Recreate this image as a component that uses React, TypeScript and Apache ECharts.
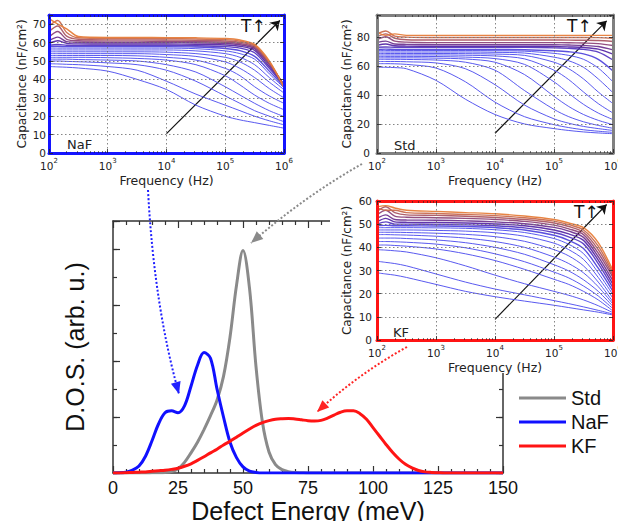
import React, { useEffect, useRef } from "react";
import * as echarts from "echarts";

// ---------- main D.O.S. panel ----------
const ENERGY = [0, 2.5, 5, 7.5, 10, 12.5, 15, 17.5, 20, 22.5, 25, 27.5, 30, 32.5, 35, 37.5, 40, 42.5, 45, 47.5, 50, 52.5, 55, 57.5, 60, 62.5, 65, 67.5, 70, 72.5, 75, 77.5, 80, 82.5, 85, 87.5, 90, 92.5, 95, 97.5, 100, 102.5, 105, 107.5, 110, 112.5, 115, 117.5, 120, 122.5, 125, 127.5, 130, 132.5, 135, 137.5, 140, 142.5, 145, 147.5, 150];

const DOS_STD = [0, 0, 0, 0, 0, 0, 0.005, 0.01, 0.02, 0.05, 0.15, 0.38, 0.72, 1.1, 1.55, 2.05, 2.6, 3.45, 4.85, 6.7, 7.95, 6.6, 3.8, 1.8, 0.75, 0.3, 0.12, 0.05, 0.02, 0.01, 0, 0, 0, 0, 0, 0, 0, 0, 0, 0, 0, 0, 0, 0, 0, 0, 0, 0, 0, 0, 0, 0, 0, 0, 0, 0, 0, 0, 0, 0, 0];
const DOS_NAF = [0, 0.005, 0.03, 0.1, 0.25, 0.6, 1.15, 1.75, 2.15, 2.22, 2.15, 2.4, 3.1, 3.85, 4.3, 4.1, 3.0, 2.0, 1.1, 0.55, 0.22, 0.07, 0.02, 0, 0, 0, 0, 0, 0, 0, 0, 0, 0, 0, 0, 0, 0, 0, 0, 0, 0, 0, 0, 0, 0, 0, 0, 0, 0, 0, 0, 0, 0, 0, 0, 0, 0, 0, 0, 0, 0];
const DOS_KF = [0, 0, 0.01, 0.02, 0.03, 0.04, 0.06, 0.08, 0.1, 0.13, 0.17, 0.24, 0.33, 0.45, 0.58, 0.72, 0.85, 1.0, 1.13, 1.28, 1.43, 1.57, 1.7, 1.8, 1.87, 1.92, 1.94, 1.95, 1.93, 1.9, 1.87, 1.86, 1.88, 1.96, 2.07, 2.17, 2.22, 2.22, 2.12, 1.92, 1.62, 1.32, 1.02, 0.74, 0.5, 0.31, 0.18, 0.09, 0.04, 0.02, 0.01, 0, 0, 0, 0, 0, 0, 0, 0, 0, 0];

const SERIES_NAMES = ["Std", "NaF", "KF"];

// ---------- inset capacitance spectra ----------
const FREQ = [100, 141, 200, 316, 1000, 3162, 10000, 31623, 100000, 177828, 316228, 562341, 1000000];

const NAF_CURVES = [
  [47, 46.8, 46.6, 46.2, 44.5, 40, 34.5, 26, 20, 18, 16.5, 15, 13.5],
  [48.5, 48.4, 48.2, 48, 47, 45, 39, 32, 26, 23, 20, 17.5, 15.3],
  [50, 50, 49.8, 49.6, 49, 48, 45, 39, 31, 27, 23, 20, 17],
  [51, 51, 51, 50.8, 50.5, 50, 48, 44, 36, 31.5, 27, 23, 19.8],
  [52, 52, 52, 52, 51.8, 51.4, 50.5, 48, 42, 37, 31.5, 27, 23.5],
  [53, 53, 53, 53, 53, 52.8, 52, 50.5, 46, 42, 36, 31, 27],
  [54, 54, 54, 54, 54, 54, 53.5, 52.5, 49.5, 46, 41, 35, 30],
  [55, 55, 55, 55, 55, 55, 54.8, 54, 52, 49.5, 45, 38.5, 32.6],
  [56, 56, 56, 56, 56, 56, 56, 55.5, 54, 52, 48, 41, 34.4],
  [57, 57, 57, 57, 57, 57, 57, 56.7, 55.5, 54, 51, 43, 35.5],
  [57.8, 58, 57.8, 57.8, 57.8, 57.8, 57.8, 57.6, 56.8, 55.6, 52.5, 44.5, 36],
  [58.5, 59, 58.6, 58.5, 58.5, 58.5, 58.5, 58.3, 57.8, 57, 54.5, 46, 36.5],
  [59.5, 61, 59.6, 59.3, 59.2, 59.2, 59.2, 59.1, 58.7, 58, 55.8, 47, 37],
  [61, 63, 60.5, 60.2, 60, 60, 60, 59.9, 59.5, 58.8, 56.7, 48, 37],
  [63, 66, 61.8, 61, 60.8, 60.8, 60.7, 60.6, 60.2, 59.5, 57.4, 48.5, 37],
  [66, 69, 63.5, 61.8, 61.5, 61.5, 61.4, 61.3, 60.9, 60.2, 58, 49, 36.5],
  [69, 72, 65.5, 62.6, 62.2, 62.2, 62.1, 62, 61.6, 60.8, 58.5, 49.5, 36],
  [73, 70, 67.5, 63.3, 62.8, 62.8, 62.7, 62.6, 62.2, 61.4, 59, 50, 35.5],
];

const STD_CURVES = [
  [59, 59, 58.8, 58, 50, 37, 26.5, 20, 16.8, 15.5, 14.5, 13.8, 13.3],
  [61.5, 61.5, 61.4, 61, 58.5, 49, 35, 25, 19.5, 17.5, 16, 15, 14.2],
  [63, 63, 63, 62.8, 62, 58, 47, 33, 23.5, 20.5, 18.3, 16.8, 15.5],
  [64.5, 64.5, 64.5, 64.4, 64, 62.5, 57, 43, 30, 25, 21.5, 19, 17],
  [65.5, 65.5, 65.5, 65.5, 65.3, 64.7, 62.5, 54, 39, 32, 26.5, 22.5, 19.5],
  [66.5, 66.5, 66.5, 66.5, 66.4, 66, 65, 61, 49, 41, 33.5, 27.5, 23],
  [67.5, 67.5, 67.5, 67.5, 67.5, 67.3, 66.8, 64.8, 57, 50.5, 42, 34, 27.5],
  [68.5, 68.5, 68.5, 68.5, 68.5, 68.4, 68.1, 67.2, 62.5, 58, 51, 42, 34],
  [69.5, 69.5, 69.5, 69.5, 69.5, 69.5, 69.3, 68.8, 66, 63.5, 59, 51, 41.5],
  [70.5, 70.5, 70.5, 70.5, 70.5, 70.5, 70.4, 70.1, 68.6, 67.2, 64.5, 58.5, 49],
  [71.3, 71.5, 71.3, 71.3, 71.3, 71.3, 71.3, 71.1, 70.4, 69.7, 68.2, 64.5, 56.5],
  [72.8, 73, 72.8, 72.8, 72.8, 72.8, 72.8, 72.7, 72.4, 72, 71.3, 69.5, 64],
  [74, 75, 73.8, 73.6, 73.5, 73.5, 73.5, 73.5, 73.3, 73, 72.6, 71.5, 68],
  [76, 77, 75, 74.8, 74.6, 74.6, 74.6, 74.6, 74.5, 74.3, 74, 73.3, 71],
  [78, 80, 77, 76.3, 76, 76, 76, 76, 76, 75.9, 75.7, 75.3, 74],
  [80, 82, 79, 78, 77.8, 77.8, 77.8, 77.8, 77.8, 77.7, 77.6, 77.4, 76.8],
  [82, 84, 80.5, 79.8, 79.5, 79.5, 79.5, 79.5, 79.5, 79.5, 79.5, 79.4, 79],
  [83, 81, 82, 81, 81, 81, 81, 81, 81, 81, 81, 81, 81],
];

const KF_CURVES = [
  [29, 28.5, 28, 27, 24, 21, 18.7, 16.8, 15, 14, 13, 12, 10.8],
  [34, 33.5, 33, 32, 28.5, 25, 22, 19.5, 17, 15.7, 14.3, 12.8, 11.2],
  [39, 38.8, 38.5, 38, 35.5, 32, 28, 24.3, 21, 19.3, 17.3, 14.8, 11.8],
  [41, 41, 40.8, 40.5, 39.3, 37.2, 34.3, 30.5, 26.2, 24, 21, 17.3, 12.5],
  [42.5, 42.5, 42.4, 42.2, 41.4, 39.8, 37.2, 33.8, 29.3, 26.8, 23.3, 19, 13.5],
  [44, 44, 44, 43.8, 43.2, 42, 40, 37, 32.5, 29.8, 26, 21, 14.5],
  [45.5, 45.5, 45.4, 45.3, 44.8, 44, 42.5, 40, 35.8, 33, 29, 23, 15.5],
  [46.5, 46.5, 46.5, 46.4, 46.1, 45.6, 44.6, 42.6, 39, 36.3, 32, 25, 16.5],
  [47.5, 47.5, 47.5, 47.5, 47.3, 47, 46.3, 44.8, 41.8, 39, 34.8, 27, 18],
  [48.5, 48.5, 48.5, 48.5, 48.4, 48.2, 47.6, 46.4, 43.8, 41.3, 37.3, 29, 19.5],
  [49.3, 49.5, 49.3, 49.3, 49.2, 49, 48.5, 47.5, 45.2, 43, 39.5, 31, 21],
  [50, 51, 50, 50, 49.9, 49.7, 49.3, 48.4, 46.4, 44.5, 41.5, 33, 22.5],
  [51, 52.5, 51, 50.8, 50.7, 50.5, 50.1, 49.3, 47.5, 45.8, 43, 34.5, 24],
  [52.5, 54, 52, 51.8, 51.7, 51.4, 51, 50.2, 48.6, 47, 44.3, 36, 25.5],
  [54, 56, 53.5, 53, 52.8, 52.5, 52, 51.2, 49.6, 48, 45.5, 37.5, 27],
  [55.5, 57.5, 55, 54, 53.8, 53.4, 52.9, 52, 50.5, 49, 46.5, 39, 28],
  [57, 56, 56, 55, 54.6, 54.2, 53.7, 52.8, 51.3, 49.8, 47.5, 40.5, 29],
  [57.5, 58, 57, 56, 55.5, 55, 54.5, 53.5, 52, 50.5, 48.5, 42, 30],
];

// "T increases" arrows, in data coordinates [frequency, capacitance]
const NAF_ARROW = [[10000, 10.5], [850000, 72]];
const STD_ARROW = [[10000, 13.6], [780000, 91]];
const KF_ARROW = [[10000, 8.9], [780000, 58.5]];

// ---------- styling / layout ----------
const MAIN_FONT = "Liberation Sans";
const INSET_FONT = "DejaVu Sans";
const MAIN_COLORS = ["#8a8a8a", "#1010ff", "#ff1414"];

const INSET_LAYOUT = [
  { key: "NaF", curves: NAF_CURVES, arrow: NAF_ARROW, left: 49, top: 15, width: 235, height: 138, ymax: 75, yint: 10, border: "#1414ff", labelMargin: 3, nameGap: 21, tagX: 67, tagY: 144, tX: 241, tY: 26 },
  { key: "Std", curves: STD_CURVES, arrow: STD_ARROW, left: 377, top: 15, width: 236, height: 138, ymax: 95, yint: 20, border: "#808080", labelMargin: 7, nameGap: 24, tagX: 394, tagY: 145, tX: 567, tY: 26 },
  { key: "KF", curves: KF_CURVES, arrow: KF_ARROW, left: 377, top: 201, width: 236, height: 139, ymax: 60, yint: 10, border: "#ff1414", labelMargin: 5, nameGap: 24, tagX: 393, tagY: 332, tX: 574, tY: 212 },
];

const CONNECTORS = [
  { color: "#2020ff", from: [148, 190], ctrl: [154, 305], to: [179, 394] },
  { color: "#8a8a8a", from: [362, 164], ctrl: [305, 196], to: [251, 243] },
  { color: "#ff2424", from: [407, 347], ctrl: [358, 374], to: [317, 412] },
];

function mixColor(a: number[], b: number[], t: number) {
  const c = a.map((v, i) => Math.round(v + (b[i] - v) * t));
  return `rgb(${c[0]},${c[1]},${c[2]})`;
}
function curveColor(i: number, n: number) {
  const t = i / (n - 1);
  const blue = [80, 80, 238];
  const purple = [90, 40, 160];
  const orange = [230, 125, 58];
  if (t <= 0.55) return mixColor(blue, blue, 0);
  if (t <= 0.72) return mixColor(blue, purple, (t - 0.55) / 0.17);
  return mixColor(purple, orange, (t - 0.72) / 0.28);
}
function curveWidth(i: number, n: number) {
  const t = i / (n - 1);
  return t > 0.55 ? 1.4 : 1.0;
}

function arrowHead(tx: number, ty: number, fx: number, fy: number, len: number, half: number) {
  const dx = tx - fx;
  const dy = ty - fy;
  const d = Math.hypot(dx, dy);
  const ux = dx / d;
  const uy = dy / d;
  const bx = tx - ux * len;
  const by = ty - uy * len;
  return [[tx, ty], [bx - uy * half, by + ux * half], [bx + uy * half, by - ux * half]];
}

function buildOption() {
  const grids: any[] = [];
  const xAxes: any[] = [];
  const yAxes: any[] = [];
  const series: any[] = [];
  const graphics: any[] = [];

  const axisColor = "#333";
  // main grid
  grids.push({ left: 113, top: 221, width: 390, height: 252, outerBoundsMode: "none", containLabel: false });
  const mainX = {
    type: "value", gridIndex: 0, min: 0, max: 150, interval: 25,
    axisLine: { show: true, onZero: false, lineStyle: { color: axisColor, width: 1.5 } },
    axisTick: { show: true, inside: true, length: 7, lineStyle: { color: axisColor, width: 1.2 } },
    minorTick: { show: true, splitNumber: 5, length: 4, lineStyle: { color: axisColor, width: 1.2 } },
    splitLine: { show: false }, minorSplitLine: { show: false },
  };
  xAxes.push({
    ...mainX, position: "bottom",
    axisLabel: { show: true, fontSize: 18, color: "#111", fontFamily: MAIN_FONT, margin: 6 },
    name: "Defect Energy (meV)", nameLocation: "middle", nameGap: 25,
    nameTextStyle: { fontSize: 25, color: "#111", fontFamily: MAIN_FONT },
  });
  xAxes.push({ ...mainX, position: "top", axisLabel: { show: false } });

  const mainY = (pos: string, interval: number, len: number, line: boolean) => ({
    type: "value", gridIndex: 0, min: 0, max: 9, interval, position: pos,
    axisLine: { show: line, onZero: false, lineStyle: { color: axisColor, width: 1.5 } },
    axisTick: { show: true, inside: true, length: len, lineStyle: { color: axisColor, width: 1.2 } },
    axisLabel: { show: false }, splitLine: { show: false },
  });
  yAxes.push({
    ...mainY("left", 2, 7, true),
    name: "D.O.S. (arb. u.)", nameLocation: "middle", nameGap: 26,
    nameTextStyle: { fontSize: 25, color: "#111", fontFamily: MAIN_FONT },
  });
  yAxes.push(mainY("right", 2, 7, true));
  yAxes.push(mainY("left", 1, 4, false));
  yAxes.push(mainY("right", 1, 4, false));

  const mainData = [DOS_STD, DOS_NAF, DOS_KF];
  SERIES_NAMES.forEach((name, k) => {
    series.push({
      name, type: "line", xAxisIndex: 0, yAxisIndex: 0,
      data: ENERGY.map((e, i) => [e, mainData[k][i]]),
      smooth: 0.35, symbol: "none", color: MAIN_COLORS[k],
      lineStyle: { color: MAIN_COLORS[k], width: 3 }, z: 2,
    });
  });

  // white backdrop behind the KF inset (covers its labels area)
  graphics.push({ type: "rect", z: 3, silent: true, shape: { x: 330, y: 190, width: 288, height: 183 }, style: { fill: "#fff" } });

  INSET_LAYOUT.forEach((ins, idx) => {
    const g = idx + 1;
    grids.push({
      left: ins.left, top: ins.top, width: ins.width, height: ins.height,
      show: true, backgroundColor: "#fff", borderWidth: 0, z: 5,
      outerBoundsMode: "none", containLabel: false,
    });
    const line = { show: true, onZero: false, lineStyle: { color: ins.border, width: 3 } };
    const tick = { show: true, inside: true, length: 4, lineStyle: { color: "#222", width: 0.8 } };
    const minor = { show: true, splitNumber: 9, length: 2, lineStyle: { color: "#222", width: 0.6 } };
    const dotted = { show: true, lineStyle: { color: "#777", type: [1.5, 2.5], width: 0.9 } };
    const xi = xAxes.length;
    xAxes.push({
      type: "log", logBase: 10, gridIndex: g, min: 100, max: 1000000, splitNumber: 4, position: "bottom", z: 8,
      axisLine: line, axisTick: tick, minorTick: minor, splitLine: dotted,
      axisLabel: {
        margin: 4,
        formatter: (v: number) => `{b|10}{s|${Math.round(Math.log10(v))}}`,
        rich: {
          b: { fontSize: 10.5, fontFamily: INSET_FONT, color: "#222", lineHeight: 14, verticalAlign: "bottom" },
          s: { fontSize: 7, fontFamily: INSET_FONT, color: "#222", lineHeight: 8, verticalAlign: "top" },
        },
      },
      name: "Frequency (Hz)", nameLocation: "middle", nameGap: 21,
      nameTextStyle: { fontSize: 12.5, fontFamily: INSET_FONT, color: "#222" },
    });
    xAxes.push({
      type: "log", logBase: 10, gridIndex: g, min: 100, max: 1000000, splitNumber: 4, position: "top", z: 8,
      axisLine: line, axisTick: tick, minorTick: minor, splitLine: { show: false }, axisLabel: { show: false },
    });
    const yi = yAxes.length;
    yAxes.push({
      type: "value", gridIndex: g, min: 0, max: ins.ymax, interval: ins.yint, position: "left", z: 8,
      axisLine: line, axisTick: tick, splitLine: dotted,
      axisLabel: {
        margin: ins.labelMargin, fontSize: 10.5, fontFamily: INSET_FONT, color: "#222",
        formatter: (v: number) => (v % ins.yint === 0 ? String(v) : ""),
      },
      name: "Capacitance (nF/cm²)", nameLocation: "middle", nameGap: ins.nameGap,
      nameTextStyle: { fontSize: 12, fontFamily: INSET_FONT, color: "#222" },
    });
    yAxes.push({
      type: "value", gridIndex: g, min: 0, max: ins.ymax, interval: ins.yint, position: "right", z: 8,
      axisLine: line, axisTick: tick, splitLine: { show: false }, axisLabel: { show: false },
    });
    const n = ins.curves.length;
    ins.curves.forEach((c, i) => {
      const s: any = {
        name: `${ins.key}-${i}`, type: "line", xAxisIndex: xi, yAxisIndex: yi,
        data: FREQ.map((f, j) => [f, c[j]]),
        smooth: 0.3, symbol: "none", silent: true, z: 6,
        lineStyle: { color: curveColor(i, n), width: curveWidth(i, n), opacity: 0.95 },
      };
      if (i === n - 1) {
        s.markLine = {
          silent: true, symbol: ["none", "arrow"], symbolSize: 9,
          label: { show: false }, animation: false,
          lineStyle: { color: "#111", width: 1.2, type: "solid", opacity: 1 },
          data: [[{ coord: ins.arrow[0] }, { coord: ins.arrow[1] }]],
        };
      }
      series.push(s);
    });
    graphics.push({
      type: "text", x: ins.tX, y: ins.tY, z: 50, silent: true,
      style: { text: "T↑", fontSize: 17, fontFamily: INSET_FONT, fill: "#111", verticalAlign: "middle", align: "left" },
    });
    graphics.push({
      type: "text", x: ins.tagX, y: ins.tagY, z: 50, silent: true,
      style: { text: ins.key, fontSize: 13, fontFamily: INSET_FONT, fill: "#222", verticalAlign: "middle", align: "left" },
    });
  });

  CONNECTORS.forEach((c) => {
    graphics.push({
      type: "bezierCurve", z: 50, silent: true,
      shape: { x1: c.from[0], y1: c.from[1], x2: c.to[0], y2: c.to[1], cpx1: c.ctrl[0], cpy1: c.ctrl[1] },
      style: { stroke: c.color, lineWidth: 2, lineDash: [2, 2], fill: null },
    });
    graphics.push({
      type: "polygon", z: 51, silent: true,
      shape: { points: arrowHead(c.to[0], c.to[1], c.ctrl[0], c.ctrl[1], 12, 5) },
      style: { fill: c.color },
    });
  });

  return {
    animation: false,
    backgroundColor: "#fff",
    grid: grids,
    xAxis: xAxes,
    yAxis: yAxes,
    series,
    legend: {
      data: SERIES_NAMES, orient: "vertical", left: 514, top: 383,
      itemWidth: 47, itemHeight: 3, itemGap: 4, icon: "rect", selectedMode: false,
      textStyle: { fontSize: 20, color: "#111", fontFamily: MAIN_FONT },
    },
    graphic: { elements: graphics },
  };
}

export default function App() {
  const ref = useRef<HTMLDivElement>(null);
  useEffect(() => {
    document.body.style.margin = "0";
    const chart = echarts.init(ref.current as HTMLDivElement, null, { renderer: "svg" });
    chart.setOption(buildOption() as any);
    return () => chart.dispose();
  }, []);
  return <div ref={ref} style={{ width: 618, height: 521 }} />;
}
